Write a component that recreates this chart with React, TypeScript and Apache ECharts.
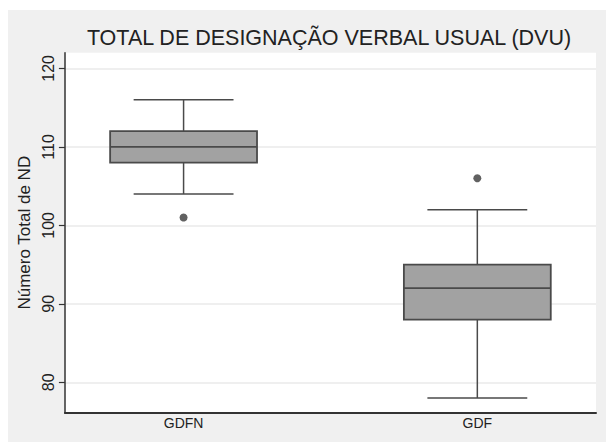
import React, { useEffect, useRef } from "react";
import * as echarts from "echarts";

const TITLE = "TOTAL DE DESIGNAÇÃO VERBAL USUAL (DVU)";
const Y_NAME = "Número Total de ND";
const categories = ["GDFN", "GDF"];
const categoryPos = [1, 2];
// [min whisker, Q1, median, Q3, max whisker]
const lowerWhisker = [104, 78];
const q1 = [108, 88];
const median = [110, 92];
const q3 = [112, 95];
const upperWhisker = [116, 102];
const outlierCategory = [1, 2];
const outlierValue = [101, 106];
const yTicks = [80, 90, 100, 110, 120];

const FONT = "'Liberation Sans', Arial, Helvetica, sans-serif";
const BOX_W = 0.5;
const CAP_W = 0.34;

export default function App() {
  const ref = useRef<HTMLDivElement>(null);
  useEffect(() => {
    if (!ref.current) return;
    const chart = echarts.init(ref.current, null, { renderer: "svg" });
    const boxData = categoryPos.map((x, i) => [
      x,
      lowerWhisker[i],
      q1[i],
      median[i],
      q3[i],
      upperWhisker[i],
    ]);
    const outliers = outlierCategory.map((x, i) => [x, outlierValue[i]]);
    const stroke = "#4a4a4a";
    chart.setOption({
      animation: false,
      backgroundColor: "#F0F0F0",
      title: {
        text: TITLE,
        left: 316,
        top: 12,
        textAlign: "center",
        textStyle: {
          fontFamily: FONT,
          fontSize: 21.5,
          fontWeight: "normal",
          color: "#222",
        },
      },
      grid: {
        left: 54.7,
        top: 42.7,
        right: 10,
        bottom: 29.3,
        show: true,
        backgroundColor: "#ffffff",
        borderWidth: 0,
      },
      xAxis: {
        type: "value",
        min: 0.596,
        max: 2.404,
        splitLine: { show: false },
        axisTick: { show: false },
        axisLine: { show: true, lineStyle: { color: "#333", width: 2 } },
        axisLabel: {
          customValues: categoryPos,
          formatter: (v: number) => categories[categoryPos.indexOf(Math.round(v))] ?? "",
          fontFamily: FONT,
          fontSize: 14,
          color: "#222",
          margin: 3,
        },
      },
      yAxis: {
        type: "value",
        min: 76.13,
        max: 122,
        name: Y_NAME,
        nameLocation: "middle",
        nameRotate: 90,
        nameGap: 18,
        nameTextStyle: { fontFamily: FONT, fontSize: 17, color: "#222" },
        splitLine: { show: false },
        axisLine: { show: true, lineStyle: { color: "#333", width: 1.5 } },
        axisTick: {
          show: true,
          customValues: yTicks,
          length: 6,
          lineStyle: { color: "#333", width: 1.2 },
        },
        axisLabel: {
          customValues: yTicks,
          rotate: 90,
          fontFamily: FONT,
          fontSize: 16,
          color: "#222",
          margin: 8,
        },
      },
      series: [
        {
          type: "line",
          data: [],
          z: 1,
          silent: true,
          markLine: {
            silent: true,
            z: 0,
            symbol: "none",
            label: { show: false },
            lineStyle: { color: "#EAEAEA", width: 1.5, type: "solid" },
            data: yTicks.map((v) => ({ yAxis: v })),
          },
        },
        {
          type: "custom",
          z: 3,
          data: boxData,
          encode: { x: 0, y: [1, 2, 3, 4, 5] },
          renderItem: (params: any, api: any) => {
            const x = api.value(0);
            const pLo = api.coord([x, api.value(1)]);
            const pQ1 = api.coord([x, api.value(2)]);
            const pMed = api.coord([x, api.value(3)]);
            const pQ3 = api.coord([x, api.value(4)]);
            const pHi = api.coord([x, api.value(5)]);
            const bw = api.size([BOX_W, 0])[0];
            const cw = api.size([CAP_W, 0])[0];
            const lineStyle = { stroke, lineWidth: 1.5 };
            return {
              type: "group",
              children: [
                { type: "line", shape: { x1: pHi[0], y1: pHi[1], x2: pQ3[0], y2: pQ3[1] }, style: lineStyle },
                { type: "line", shape: { x1: pQ1[0], y1: pQ1[1], x2: pLo[0], y2: pLo[1] }, style: lineStyle },
                { type: "line", shape: { x1: pHi[0] - cw / 2, y1: pHi[1], x2: pHi[0] + cw / 2, y2: pHi[1] }, style: lineStyle },
                { type: "line", shape: { x1: pLo[0] - cw / 2, y1: pLo[1], x2: pLo[0] + cw / 2, y2: pLo[1] }, style: lineStyle },
                {
                  type: "rect",
                  shape: { x: pQ3[0] - bw / 2, y: pQ3[1], width: bw, height: pQ1[1] - pQ3[1] },
                  style: { fill: "#A2A2A2", stroke, lineWidth: 1.8 },
                },
                { type: "line", shape: { x1: pMed[0] - bw / 2, y1: pMed[1], x2: pMed[0] + bw / 2, y2: pMed[1] }, style: { stroke, lineWidth: 1.8 } },
              ],
            };
          },
        },
        {
          type: "scatter",
          z: 4,
          data: outliers,
          symbol: "circle",
          symbolSize: 8,
          itemStyle: { color: "#3a3a3a" },
        },
      ],
    });
    return () => chart.dispose();
  }, []);
  return (
    <div
      ref={ref}
      style={{ position: "absolute", left: 8, top: 10, width: 598, height: 432 }}
    />
  );
}
